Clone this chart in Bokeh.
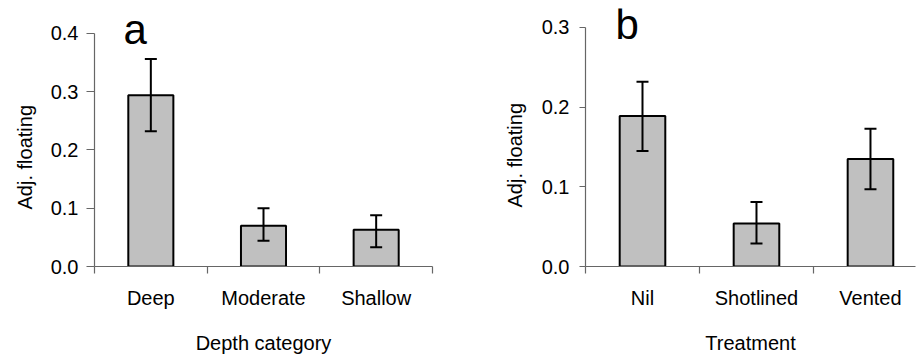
from bokeh.plotting import figure
from bokeh.layouts import row
from bokeh.models import (ColumnDataSource, Range1d, FixedTicker, NumeralTickFormatter,
                          Whisker, TeeHead, Label)
from bokeh.embed import file_html
from bokeh.resources import INLINE

# ---- data ----
depth_categories = ["Deep", "Moderate", "Shallow"]
depth_mean = [0.294, 0.070, 0.063]
depth_upper = [0.356, 0.100, 0.088]
depth_lower = [0.232, 0.044, 0.033]
depth_yticks = [0.0, 0.1, 0.2, 0.3, 0.4]

treat_categories = ["Nil", "Shotlined", "Vented"]
treat_mean = [0.189, 0.054, 0.135]
treat_upper = [0.232, 0.081, 0.173]
treat_lower = [0.145, 0.029, 0.097]
treat_yticks = [0.0, 0.1, 0.2, 0.3]

y_label = "Adj. floating"

FONT = "Liberation Sans"
AXIS_GRAY = "#666666"


def make_panel(cats, mean, upper, lower, yticks, xlabel, letter, width,
               x_end, y_end, mb_left, mb_right, ytick_out, ylab_standoff,
               ytitle_standoff, ytitle_offset, letter_x, letter_y):
    xs = [i + 0.5 for i in range(len(cats))]
    src = ColumnDataSource(dict(x=xs, top=mean, upper=upper, lower=lower))
    p = figure(width=width, height=356, output_backend="svg", toolbar_location=None,
               x_range=Range1d(0, x_end), y_range=Range1d(yticks[0], y_end),
               min_border_left=mb_left, min_border_right=mb_right,
               min_border_top=8, min_border_bottom=89,
               title=y_label, title_location="left")
    p.outline_line_color = None
    p.xgrid.visible = False
    p.ygrid.visible = False
    p.background_fill_color = "white"
    p.border_fill_color = "white"

    # y-axis title drawn as a vertical title so it can sit below the frame centre
    p.title.text_font = FONT
    p.title.text_font_size = "20px"
    p.title.text_font_style = "normal"
    p.title.text_color = "black"
    p.title.align = "left"
    p.title.offset = ytitle_offset
    p.title.standoff = ytitle_standoff

    p.vbar(x="x", top="top", bottom=0, width=0.4, source=src,
           fill_color="#c0c0c0", line_color="black", line_width=2)
    w = Whisker(base="x", upper="upper", lower="lower", source=src, level="overlay",
                line_color="black", line_width=2,
                upper_head=TeeHead(size=12, line_width=2, line_color="black"),
                lower_head=TeeHead(size=12, line_width=2, line_color="black"))
    p.add_layout(w)

    # x axis: labels at category centres, tick marks at category boundaries
    xa = p.xaxis[0]
    xa.ticker = FixedTicker(ticks=xs, minor_ticks=list(range(len(cats) + 1)))
    xa.major_label_overrides = {x: c for x, c in zip(xs, cats)}
    xa.major_tick_out = 0
    xa.major_tick_in = 0
    xa.minor_tick_out = 7
    xa.minor_tick_in = 0
    xa.minor_tick_line_color = AXIS_GRAY
    xa.minor_tick_line_width = 1.2
    xa.axis_line_color = AXIS_GRAY
    xa.axis_line_width = 1.2
    xa.major_label_text_font = FONT
    xa.major_label_text_font_size = "20px"
    xa.major_label_text_color = "black"
    xa.major_label_standoff = 13
    xa.axis_label = xlabel
    xa.axis_label_text_font = FONT
    xa.axis_label_text_font_size = "20px"
    xa.axis_label_text_font_style = "normal"
    xa.axis_label_text_color = "black"
    xa.axis_label_standoff = 20

    ya = p.yaxis[0]
    ya.bounds = (yticks[0], yticks[-1])
    ya.ticker = FixedTicker(ticks=yticks)
    ya.formatter = NumeralTickFormatter(format="0.0")
    ya.major_tick_out = ytick_out
    ya.major_tick_in = 0
    ya.minor_tick_line_color = None
    ya.major_tick_line_color = AXIS_GRAY
    ya.major_tick_line_width = 1.2
    ya.axis_line_color = AXIS_GRAY
    ya.axis_line_width = 1.2
    ya.major_label_text_font = FONT
    ya.major_label_text_font_size = "20px"
    ya.major_label_text_color = "black"
    ya.major_label_standoff = ylab_standoff

    p.add_layout(Label(x=letter_x, y=letter_y, text=letter, text_font=FONT,
                       text_font_size="42px", text_color="black",
                       text_baseline="alphabetic", text_align="left"))
    return p


pa = make_panel(depth_categories, depth_mean, depth_upper, depth_lower, depth_yticks,
                "Depth category", "a", 460, 3.0, 0.4427, 93, 28, 8, 8, 23, 57,
                0.257, 0.407)
pb = make_panel(treat_categories, treat_mean, treat_upper, treat_lower, treat_yticks,
                "Treatment", "b", 460, 2.895, 0.3238, 125, 5, 6, 10, 26, 59,
                0.263, 0.304)

layout = row(pa, pb)
open("out.html", "w").write(file_html(layout, INLINE))
